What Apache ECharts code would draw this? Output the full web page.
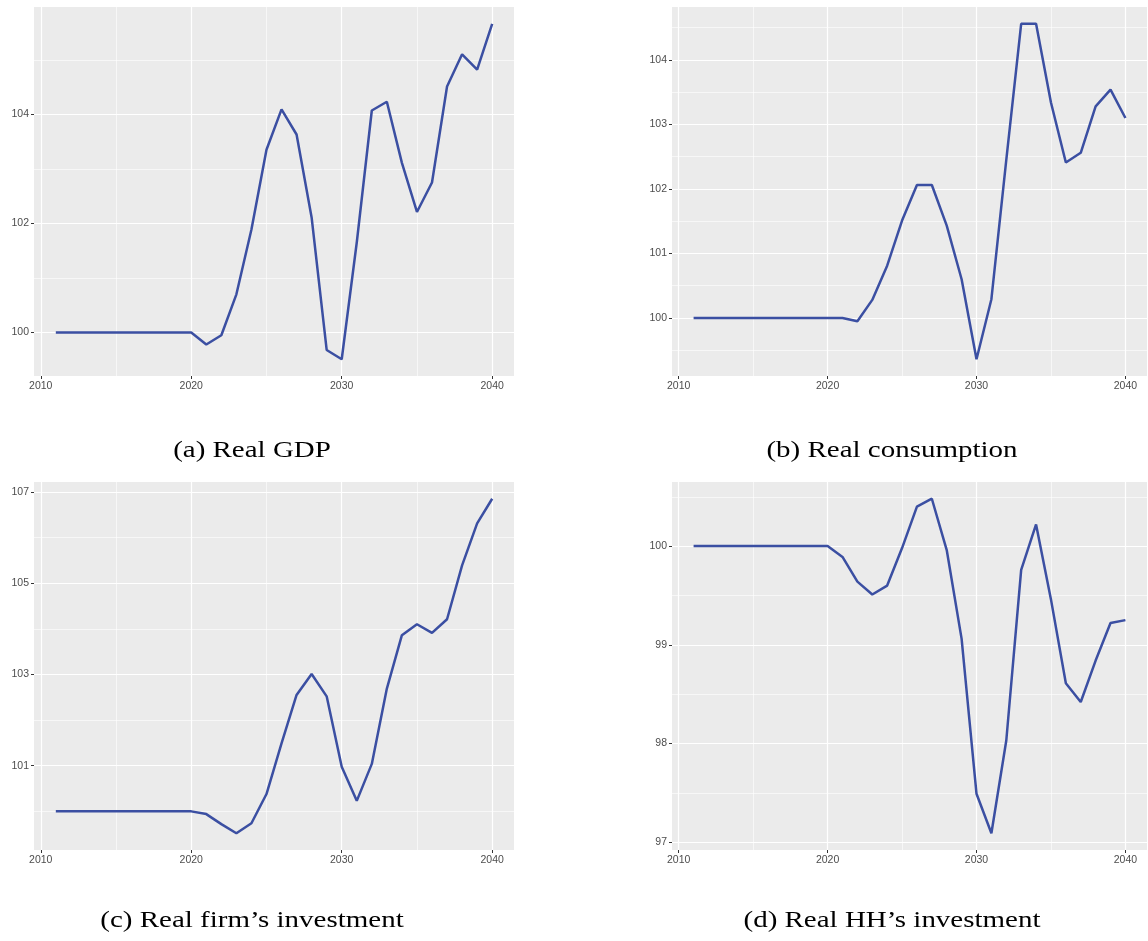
<!DOCTYPE html>
<html>
<head>
<meta charset="utf-8">
<script src="https://cdn.jsdelivr.net/npm/echarts@6/dist/echarts.min.js"></script>
<style>
html,body{margin:0;padding:0;background:#fff;}
#chart{width:1148px;height:941px;}
</style>
</head>
<body>
<div id="chart"></div>
<script>
// ---- data ----
const years = [2011,2012,2013,2014,2015,2016,2017,2018,2019,2020,2021,2022,2023,2024,2025,2026,2027,2028,2029,2030,2031,2032,2033,2034,2035,2036,2037,2038,2039,2040];
const realGDP = [100,100,100,100,100,100,100,100,100,100,99.78,99.95,100.70,101.89,103.35,104.09,103.63,102.11,99.68,99.51,101.65,104.07,104.23,103.11,102.21,102.75,104.51,105.10,104.82,105.66];
const realConsumption = [100,100,100,100,100,100,100,100,100,100,100,99.95,100.28,100.81,101.51,102.06,102.06,101.43,100.60,99.36,100.29,102.45,104.56,104.56,103.34,102.41,102.56,103.28,103.54,103.10];
const realFirmInvestment = [100,100,100,100,100,100,100,100,100,100,99.94,99.72,99.52,99.74,100.38,101.49,102.55,103.01,102.52,100.98,100.23,101.04,102.69,103.86,104.10,103.91,104.21,105.39,106.31,106.85];
const realHHInvestment = [100,100,100,100,100,100,100,100,100,100,99.89,99.64,99.51,99.60,99.98,100.40,100.48,99.96,99.06,97.49,97.09,98.03,99.76,100.22,99.46,98.61,98.42,98.84,99.22,99.25];

const xTicks = [2010,2020,2030,2040];
const xMinor = [2015,2025,2035];
const aTicks = [100,102,104];
const aMinor = [101,103,105];
const bTicks = [100,101,102,103,104];
const bMinor = [99.5,100.5,101.5,102.5,103.5,104.5];
const cTicks = [101,103,105,107];
const cMinor = [100,102,104,106];
const dTicks = [97,98,99,100];
const dMinor = [97.5,98.5,99.5,100.5];

const captions = ['(a) Real GDP','(b) Real consumption','(c) Real firm\u2019s investment','(d) Real HH\u2019s investment'];

// ---- layout / style ----
const grids = [
  {left:34, top:7, width:480, height:369},
  {left:672, top:7, width:475, height:369},
  {left:34, top:482, width:480, height:368},
  {left:672, top:482, width:475, height:368}
];
const captionPos = [[252,451],[892,451],[252,921],[892,921]];
const panels = [
  {vals: realGDP, ticks: aTicks, minor: aMinor},
  {vals: realConsumption, ticks: bTicks, minor: bMinor},
  {vals: realFirmInvestment, ticks: cTicks, minor: cMinor},
  {vals: realHHInvestment, ticks: dTicks, minor: dMinor}
];
const LINE = '#3B4FA2';
const BG = '#EBEBEB';

function expand(arr){
  const lo = Math.min(...arr), hi = Math.max(...arr);
  const r = hi - lo;
  return [lo - 0.05*r, hi + 0.05*r];
}
const xr = expand(years);

const option = {
  animation:false,
  backgroundColor:'#fff',
  grid: grids.map(g => Object.assign({show:true, backgroundColor:BG, borderWidth:0, containLabel:false}, g)),
  xAxis: [], yAxis: [], series: [],
  graphic: captions.map((t,i)=>({
    type:'text', x:captionPos[i][0], y:captionPos[i][1], scaleX:1.26, scaleY:1,
    style:{text:t, font:'23px "Liberation Serif", "DejaVu Serif", serif', fill:'#000', textAlign:'center', textVerticalAlign:'middle'}
  }))
};

const labelStyle = {color:'#4D4D4D', fontSize:10.5, fontFamily:'"Liberation Sans", Arial, sans-serif', formatter: v => String(v)};

panels.forEach((p,i)=>{
  const yr = expand(p.vals);
  option.xAxis.push({
    type:'value', gridIndex:i, min:xr[0], max:xr[1],
    axisLine:{show:false},
    axisTick:{show:true, length:3, lineStyle:{color:'#333', width:1}, customValues:xTicks},
    axisLabel:Object.assign({margin:5, customValues:xTicks}, labelStyle),
    splitLine:{show:true, lineStyle:{color:'#fff', width:1.2}}
  });
  option.yAxis.push({
    type:'value', gridIndex:i, min:yr[0], max:yr[1],
    axisLine:{show:false},
    axisTick:{show:true, length:3, lineStyle:{color:'#333', width:1}, customValues:p.ticks},
    axisLabel:Object.assign({margin:5, customValues:p.ticks}, labelStyle),
    splitLine:{show:true, lineStyle:{color:'#fff', width:1.2}}
  });
  const minorData = xMinor.map(v=>({xAxis:v})).concat(p.minor.map(v=>({yAxis:v})));
  option.series.push({
    type:'line', xAxisIndex:i, yAxisIndex:i, z:3,
    symbol:'none', showSymbol:false,
    lineStyle:{color:LINE, width:2.5},
    data: years.map((y,k)=>[y, p.vals[k]]),
    markLine:{
      silent:true, z:1, symbol:['none','none'], animation:false,
      label:{show:false},
      lineStyle:{color:'#fff', width:0.6, type:'solid'},
      emphasis:{disabled:true},
      data:minorData
    }
  });
});

const chart = echarts.init(document.getElementById('chart'), null, {renderer:'canvas'});
chart.setOption(option);
</script>
</body>
</html>
